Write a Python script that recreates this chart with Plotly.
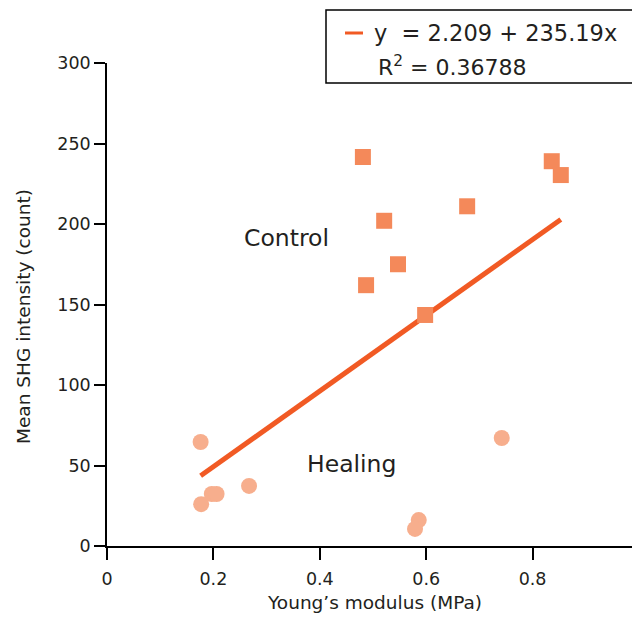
import plotly.graph_objects as go

# ---- data ----
control_x = [0.481, 0.836, 0.853, 0.677, 0.521, 0.547, 0.487, 0.598]
control_y = [241.6, 239.0, 230.4, 211.0, 202.0, 175.0, 162.0, 143.5]
healing_x = [0.176, 0.177, 0.197, 0.206, 0.267, 0.586, 0.579, 0.742]
healing_y = [64.6, 26.0, 32.3, 32.3, 37.3, 16.1, 10.6, 67.1]
fit_intercept = 2.209
fit_slope = 235.19
r_squared = 0.36788
x_ticks = [0, 0.2, 0.4, 0.6, 0.8, 1]
x_tick_labels = ["0", "0.2", "0.4", "0.6", "0.8", "1"]
y_ticks = [0, 50, 100, 150, 200, 250, 300]
y_tick_labels = ["0", "50", "100", "150", "200", "250", "300"]

all_x = control_x + healing_x
fit_x = [min(all_x), max(all_x)]
fit_y = [fit_intercept + fit_slope * v for v in fit_x]

FONT = "DejaVu Sans"
TXT = "#231F20"
LINE_C = "#F15A24"
SQ_C = "#F4895A"
CI_C = "#F7AE8D"

fig = go.Figure()
fig.add_trace(go.Scatter(x=fit_x, y=fit_y, mode="lines",
                         line=dict(color=LINE_C, width=5), hoverinfo="skip",
                         showlegend=False))
fig.add_trace(go.Scatter(x=healing_x, y=healing_y, mode="markers",
                         marker=dict(symbol="circle", size=16, color=CI_C),
                         showlegend=False, name="Healing"))
fig.add_trace(go.Scatter(x=control_x, y=control_y, mode="markers",
                         marker=dict(symbol="square", size=16, color=SQ_C),
                         showlegend=False, name="Control"))

axis_common = dict(showline=True, linecolor="black", linewidth=1.5,
                   ticks="outside", tickwidth=1.5, tickcolor="black",
                   showgrid=False, zeroline=False, automargin=False,
                   ticklabeloverflow="allow",
                   tickfont=dict(family=FONT, size=17.5, color=TXT))

fig.update_xaxes(range=[0, 1], tickvals=x_ticks, ticktext=x_tick_labels,
                 ticklen=12, ticklabelstandoff=4, **axis_common)
fig.update_yaxes(range=[0, 300], tickvals=y_ticks, ticktext=y_tick_labels,
                 ticklen=11, **axis_common)

# screen pixel -> paper helpers (plot area on screen: x 107..639, y 63..546)
def px(x):
    return (x - 107) / 532.0

def py(y):
    return (546 - y) / 483.0

annotations = [
    dict(text="Control", x=0.3365, y=191.3, xref="x", yref="y",
         xanchor="center", yanchor="middle",
         showarrow=False, font=dict(family=FONT, size=23.5, color=TXT)),
    dict(text="Healing", x=0.4605, y=50.9, xref="x", yref="y",
         xanchor="center", yanchor="middle",
         showarrow=False, font=dict(family=FONT, size=23.5, color=TXT)),
    dict(text="Young\u2019s modulus (MPa)", x=px(374), y=py(602), xref="paper",
         yref="paper", xanchor="center", yanchor="middle", showarrow=False,
         font=dict(family=FONT, size=18.5, color=TXT)),
    dict(text="Mean SHG intensity (count)", x=px(23), y=py(317), xref="paper",
         yref="paper", xanchor="center", yanchor="middle", showarrow=False,
         textangle=-90, font=dict(family=FONT, size=18.5, color=TXT)),
    dict(text="y  = %.3f + %.2fx" % (fit_intercept, fit_slope), x=px(372),
         y=py(33), xref="paper", yref="paper", xanchor="left",
         yanchor="middle", showarrow=False,
         font=dict(family=FONT, size=22.5, color=TXT)),
    dict(text="R<sup>2</sup> = %.5f" % r_squared, x=px(376), y=py(66),
         xref="paper", yref="paper", xanchor="left", yanchor="middle",
         showarrow=False, font=dict(family=FONT, size=22, color=TXT)),
]

shapes = [
    dict(type="rect", xref="paper", yref="paper", x0=px(326), x1=px(660),
         y0=py(83), y1=py(10), line=dict(color="black", width=1.5),
         fillcolor="white", layer="above"),
    dict(type="line", xref="paper", yref="paper", x0=px(345), x1=px(363),
         y0=py(33), y1=py(33), line=dict(color=LINE_C, width=3)),
]

# the page body adds an 8 px offset, so the figure is 8 px smaller
fig.update_layout(width=632, height=610,
                  margin=dict(l=99, r=1, t=55, b=72),
                  plot_bgcolor="white", paper_bgcolor="white",
                  annotations=annotations, shapes=shapes,
                  font=dict(family=FONT, color=TXT))

fig.write_html("out.html")
